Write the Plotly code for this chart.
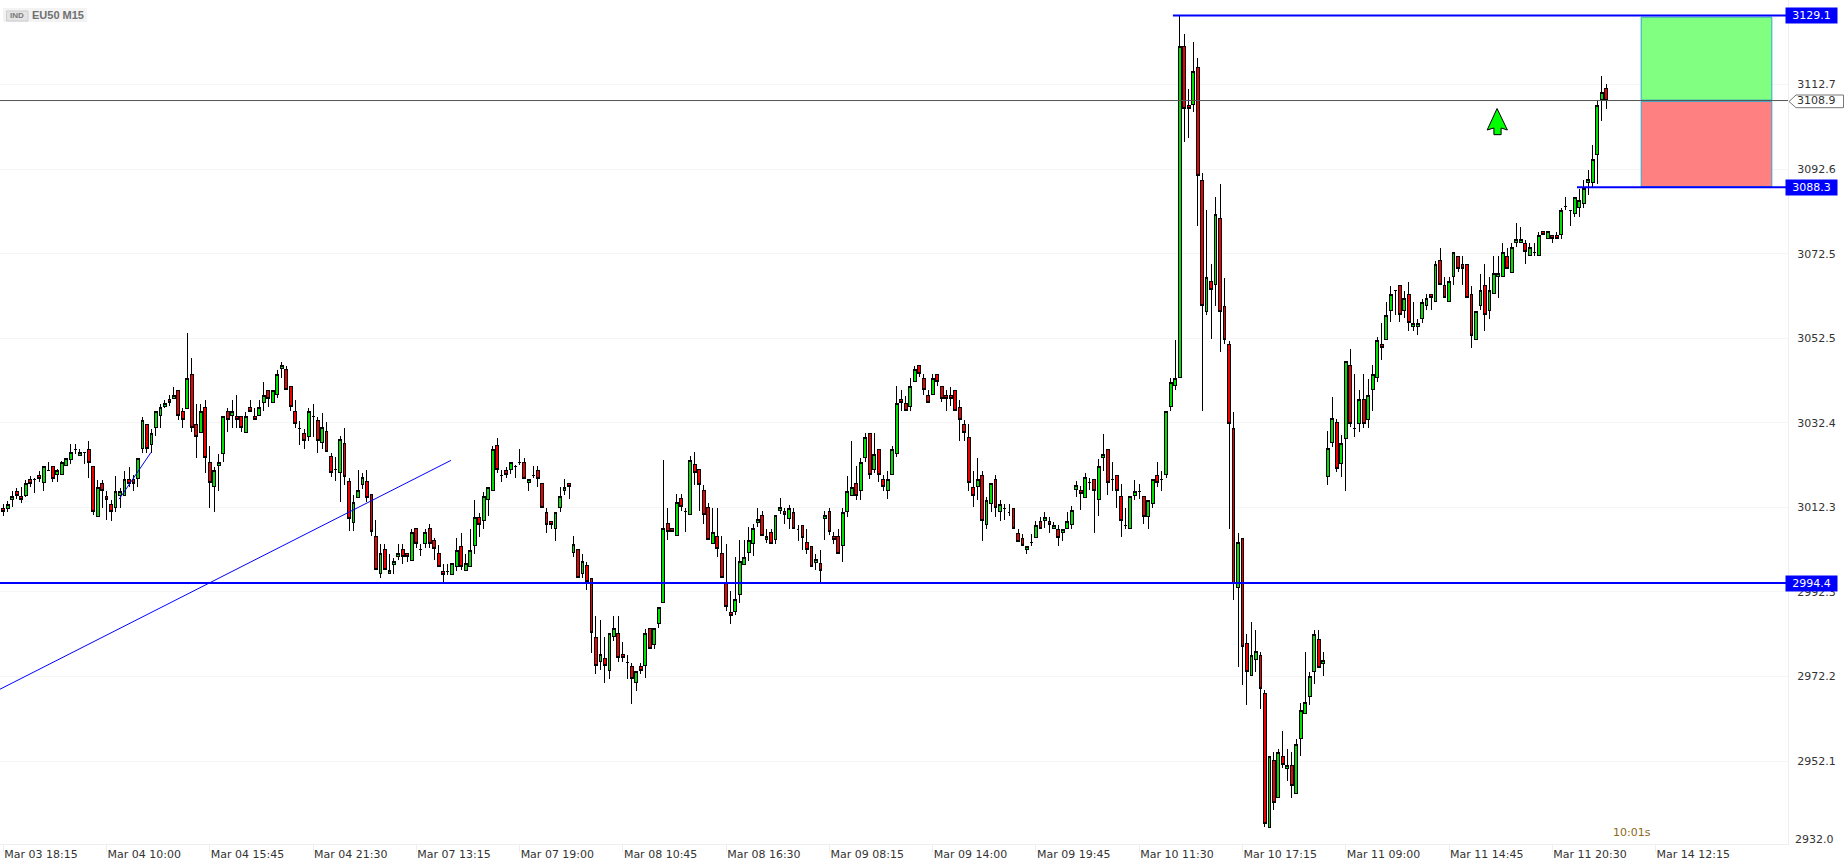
import plotly.graph_objects as go

opens = [
3012.1,3012.2,3014.2,3016.1,3014.9,3015.1,3018.9,3018.9,3019.9,3018.2,
3021.1,3022.0,3020.1,3020.1,3022.2,3023.6,3026.2,3024.6,3025.3,3026.1,
3022.0,3010.2,3018.0,3014.9,3013.0,3012.3,3015.2,3015.1,3018.9,3018.9,
3019.2,3026.3,3032.0,3027.2,3031.3,3034.1,3036.3,3037.9,3038.2,3040.1,
3035.1,3035.8,3043.9,3032.0,3030.1,3036.0,3023.0,3017.3,3022.2,3025.1,
3035.1,3034.1,3033.9,3033.9,3030.1,3036.0,3033.9,3034.1,3037.2,3040.1,
3037.2,3039.1,3045.2,3045.0,3041.0,3035.1,3031.0,3029.9,3029.1,3033.9,
3032.9,3027.7,3030.3,3024.4,3021.3,3020.6,3027.5,3018.5,3008.7,3014.7,
3017.8,3018.5,3015.4,3005.4,2996.6,3002.3,2996.6,2998.8,3000.7,3002.3,
3001.4,2999.7,3007.3,3002.3,3003.7,3007.3,3004.5,3001.4,2997.1,2997.1,
2996.4,2998.3,3003.1,2997.4,2998.3,3003.3,3010.0,3009.2,3014.2,3016.4,
3027.0,3019.9,3021.1,3021.3,3022.1,3023.0,3023.0,3018.3,3019.9,3021.1,
3018.0,3011.1,3009.0,3007.3,3012.3,3016.4,3018.0,3001.6,3002.4,2996.7,
2998.6,2995.5,2981.5,2975.8,2976.5,2973.6,2981.7,2982.4,2977.4,2975.5,
2974.6,2970.7,2974.6,2974.8,2983.6,2979.8,2984.8,2989.8,3008.5,3007.3,
3005.7,3014.5,3011.4,3010.7,3022.5,3021.3,3016.4,3012.3,3003.8,3005.4,
3001.4,2994.6,2987.4,2987.6,2991.7,2998.8,3001.6,3003.8,3008.8,3010.4,
3004.7,3006.4,3004.7,3011.6,3011.4,3009.7,3011.1,3007.1,3008.1,3004.0,
3003.1,2999.3,2999.0,3009.7,3011.4,3005.4,3005.4,3003.3,3011.4,3015.2,
3018.0,3016.4,3024.2,3029.9,3021.3,3026.1,3018.9,3016.3,3020.1,3025.1,
3037.9,3037.0,3036.3,3042.2,3046.0,3042.9,3038.9,3039.1,3043.9,3041.0,
3038.9,3038.9,3040.1,3036.0,3032.0,3028.9,3017.0,3017.3,3019.9,3008.2,
3013.2,3018.9,3011.3,3012.0,3011.1,3012.0,3006.1,3004.9,3002.3,3004.0,
3005.2,3009.0,3009.2,3009.0,3007.3,3007.1,3006.4,3007.3,3008.2,3016.6,
3016.3,3014.7,3018.3,3018.9,3014.2,3024.2,3026.1,3018.9,3019.9,3014.9,
3008.0,3007.3,3015.1,3016.1,3014.9,3010.1,3013.2,3019.9,3018.9,3020.1,
3036.3,3041.2,3043.1,3121.7,3107.7,3107.9,3116.7,3089.9,3058.9,3065.9,
3065.2,3080.9,3060.0,3051.0,3031.1,2993.3,3005.0,2980.0,2972.5,2976.2,
2977.2,2968.2,2936.4,2952.3,2943.5,2953.2,2950.4,2951.1,2944.4,2957.5,
2963.4,2967.5,2973.4,2981.0,2975.3,3019.7,3027.7,3032.5,3022.8,3028.7,
3046.0,3031.1,3032.2,3037.9,3033.2,3040.3,3043.2,3051.0,3052.2,3059.1,
3063.8,3065.0,3059.1,3062.9,3055.3,3055.3,3057.2,3060.2,3062.9,3061.2,
3070.9,3065.0,3061.2,3067.1,3071.9,3070.0,3070.0,3062.9,3052.2,3060.2,
3065.0,3059.1,3063.1,3067.1,3067.1,3071.9,3068.1,3075.2,3075.2,3075.0,
3072.1,3072.8,3072.1,3077.8,3076.1,3076.9,3076.9,3077.1,3083.7,3082.8,
3082.1,3083.5,3084.4,3089.4,3089.4,3096.1,3109.1,3111.7]

highs = [
3013.1,3013.9,3016.2,3017.0,3017.2,3018.9,3019.9,3019.3,3021.0,3022.0,
3023.0,3022.0,3021.4,3023.3,3023.9,3027.5,3027.5,3026.3,3025.6,3028.0,
3022.0,3018.9,3018.9,3016.2,3014.2,3019.9,3017.0,3021.1,3022.0,3020.0,
3023.9,3033.9,3032.0,3031.0,3035.1,3037.0,3037.9,3039.0,3040.9,3040.1,
3036.0,3053.8,3047.9,3037.0,3037.0,3037.9,3027.0,3021.9,3025.0,3033.9,
3036.0,3037.9,3039.0,3033.9,3035.1,3037.9,3036.0,3037.9,3042.0,3040.1,
3040.1,3045.0,3046.9,3046.0,3041.0,3037.9,3032.9,3031.0,3036.0,3037.0,
3033.9,3034.8,3032.5,3025.3,3024.3,3029.4,3031.3,3019.4,3015.4,3021.3,
3020.4,3021.3,3015.4,3009.4,3003.6,3003.6,3001.4,3000.4,3003.6,3003.6,
3001.4,3007.3,3007.3,3003.6,3007.3,3008.4,3005.2,3003.5,2999.0,2999.0,
2999.0,3005.0,3006.2,3001.4,3007.1,3014.1,3010.9,3016.0,3017.1,3027.0,
3028.9,3021.2,3022.0,3023.0,3022.3,3026.1,3024.0,3019.0,3022.1,3022.1,
3018.0,3012.1,3009.0,3011.1,3017.1,3019.0,3018.0,3005.5,3002.4,3001.4,
2999.5,2995.5,2986.5,2985.6,2981.5,2982.4,2986.5,2986.5,2980.5,2977.4,
2975.5,2973.4,2975.5,2983.6,2983.6,2983.6,2988.6,3023.6,3012.3,3007.3,
3015.5,3015.5,3012.3,3024.5,3025.5,3021.3,3017.6,3013.5,3012.3,3012.3,
3005.5,3003.6,2992.4,3000.5,3004.6,3004.6,3007.6,3008.5,3012.3,3011.4,
3007.3,3007.3,3010.4,3014.5,3012.3,3013.0,3012.1,3008.1,3008.1,3007.1,
3003.1,3001.2,3002.2,3011.4,3012.3,3006.4,3007.3,3012.1,3019.9,3028.0,
3022.1,3024.0,3029.9,3029.9,3029.9,3026.1,3020.0,3021.1,3027.0,3041.1,
3040.1,3038.9,3043.0,3046.0,3046.0,3043.9,3040.1,3044.1,3043.9,3041.0,
3040.1,3041.0,3040.1,3037.9,3033.0,3032.1,3021.1,3024.0,3021.1,3014.9,
3018.0,3020.0,3014.0,3013.2,3013.2,3012.0,3007.1,3006.1,3003.0,3006.1,
3009.0,3010.1,3011.2,3010.1,3008.9,3008.1,3007.1,3011.2,3012.6,3018.5,
3017.5,3020.4,3019.4,3018.9,3023.9,3029.8,3026.1,3023.0,3019.9,3018.0,
3012.1,3014.9,3018.9,3018.0,3014.9,3013.9,3018.9,3023.0,3021.1,3035.1,
3043.0,3052.0,3129.0,3124.8,3111.7,3122.9,3118.9,3091.8,3082.9,3070.0,
3085.9,3089.0,3066.9,3051.9,3035.1,3006.2,3005.0,2982.2,2985.1,2983.2,
2978.1,2969.1,2953.2,2954.3,2955.1,2959.2,2955.1,2954.2,2957.3,2966.0,
2978.1,2973.2,2983.2,2983.2,2978.1,3030.4,3038.5,3033.4,3029.5,3047.0,
3050.0,3044.0,3040.1,3044.0,3042.9,3046.1,3052.9,3056.0,3061.0,3065.0,
3064.0,3065.0,3063.8,3065.9,3061.0,3057.0,3061.9,3062.9,3062.9,3070.9,
3074.0,3067.0,3067.0,3072.8,3071.9,3071.9,3070.0,3065.0,3058.8,3067.8,
3070.0,3067.0,3071.9,3071.9,3075.0,3074.0,3075.0,3079.9,3079.0,3075.9,
3075.0,3075.0,3077.8,3077.8,3077.8,3076.9,3077.8,3083.5,3086.0,3082.9,
3085.9,3088.0,3090.1,3092.3,3098.3,3109.0,3114.8,3112.8]

lows = [
3010.2,3011.3,3012.4,3014.4,3013.4,3014.8,3017.2,3015.8,3018.4,3016.2,
3021.0,3018.4,3018.4,3020.1,3022.2,3022.7,3025.0,3024.6,3022.7,3019.3,
3010.5,3010.2,3012.3,3009.3,3009.1,3011.3,3012.3,3015.1,3017.2,3016.2,
3017.2,3025.3,3025.3,3025.3,3029.2,3031.1,3036.0,3036.3,3038.2,3033.2,
3031.1,3035.8,3030.2,3024.1,3030.1,3020.4,3012.2,3011.3,3016.2,3023.1,
3030.2,3031.3,3031.3,3030.2,3030.1,3035.1,3033.2,3034.1,3035.2,3036.2,
3037.2,3038.2,3043.1,3040.3,3035.2,3031.3,3027.2,3026.2,3028.2,3029.1,
3025.3,3026.3,3025.5,3019.6,3018.5,3013.6,3017.6,3006.8,3006.8,3014.7,
3016.8,3013.6,3005.6,2997.6,2995.7,2997.6,2996.6,2996.6,2999.8,2998.8,
2999.5,2999.7,3002.7,3000.8,3002.7,3002.6,2999.8,2998.2,2994.3,2996.3,
2996.4,2997.3,2997.5,2997.3,2998.3,3001.3,3005.4,3007.1,3010.3,3016.4,
3020.4,3018.4,3019.4,3020.2,3019.4,3022.3,3019.2,3016.3,3019.4,3017.2,
3012.3,3006.3,3007.3,3004.4,3011.3,3015.3,3014.4,3000.6,2995.7,2995.7,
2992.7,2977.8,2972.8,2973.7,2970.7,2971.7,2980.7,2975.7,2975.7,2971.7,
2965.7,2968.8,2972.7,2971.9,2978.9,2978.8,2983.8,2989.8,3004.6,3006.6,
3005.7,3011.6,3006.5,3010.7,3017.7,3011.5,3008.5,3004.7,3003.8,3000.6,
2995.7,2987.8,2984.6,2986.8,2989.7,2998.8,2999.7,3000.8,3007.6,3005.7,
3003.8,3003.8,3003.6,3010.7,3008.5,3007.3,3007.3,3004.4,3002.2,3001.2,
2998.3,2997.6,2994.6,3004.6,3005.7,3003.6,3001.4,2999.3,3010.1,3015.2,
3014.2,3014.2,3023.0,3019.2,3020.4,3018.4,3016.2,3014.3,3020.1,3024.3,
3035.2,3035.3,3035.2,3042.2,3043.3,3039.1,3037.2,3039.1,3041.1,3037.3,
3035.2,3036.3,3035.2,3028.1,3028.1,3016.2,3012.4,3014.2,3004.4,3007.2,
3011.3,3010.1,3009.1,3009.3,3010.3,3007.3,3004.2,3003.3,3001.3,3003.3,
3005.2,3007.3,3007.4,3006.3,3007.3,3003.2,3004.4,3007.3,3007.3,3014.8,
3011.7,3014.7,3016.4,3006.3,3010.3,3021.1,3015.2,3016.2,3012.2,3005.3,
3007.2,3007.3,3014.2,3014.3,3008.3,3007.2,3012.2,3017.2,3016.2,3019.3,
3035.2,3040.1,3043.1,3099.1,3100.0,3106.2,3079.1,3035.2,3058.0,3052.2,
3060.2,3049.2,3051.1,3007.3,2990.3,2974.5,2970.2,2965.4,2972.5,2973.3,
2964.5,2936.5,2936.4,2940.5,2943.5,2950.4,2947.4,2943.4,2944.4,2953.4,
2963.4,2965.4,2970.5,2974.4,2972.4,3017.6,3026.7,3020.8,3019.6,3016.3,
3031.4,3029.1,3030.3,3031.3,3031.3,3035.2,3042.1,3047.4,3052.2,3056.4,
3058.1,3056.4,3057.2,3054.2,3054.2,3053.2,3056.1,3059.3,3059.1,3061.2,
3065.2,3062.1,3061.2,3065.1,3068.2,3065.1,3062.1,3050.2,3052.2,3059.1,
3054.2,3057.1,3063.1,3062.1,3067.1,3069.0,3068.1,3074.2,3075.2,3070.1,
3072.1,3072.1,3072.1,3077.0,3076.1,3075.1,3076.1,3076.1,3082.9,3079.1,
3081.3,3081.3,3083.5,3086.4,3088.4,3089.2,3104.1,3107.0]

closes = [
3011.3,3013.0,3014.9,3015.1,3014.2,3018.0,3018.1,3018.9,3019.1,3022.0,
3021.1,3019.2,3021.0,3023.0,3023.9,3025.3,3026.2,3025.3,3025.3,3023.1,
3011.3,3017.0,3016.3,3014.2,3011.3,3016.1,3016.1,3018.9,3018.1,3018.1,
3023.9,3032.9,3026.3,3029.9,3035.1,3036.0,3037.0,3037.2,3038.9,3034.1,
3033.2,3042.9,3031.3,3029.1,3035.1,3024.2,3018.2,3021.1,3023.0,3033.9,
3033.1,3035.1,3033.1,3031.3,3033.9,3035.2,3033.2,3036.0,3038.9,3038.2,
3040.1,3043.9,3046.0,3040.3,3036.3,3032.2,3031.0,3028.2,3035.1,3033.9,
3028.2,3031.3,3025.5,3020.6,3021.3,3028.4,3019.6,3009.7,3013.5,3016.3,
3019.4,3014.7,3006.6,2997.6,3001.4,2997.6,2997.3,2999.5,3001.4,3000.7,
3000.7,3006.4,3003.7,3002.3,3006.4,3003.7,3002.6,2998.3,2996.4,2997.1,
2999.0,3002.1,2998.3,2999.0,3002.1,3010.0,3008.3,3014.9,3017.1,3026.1,
3021.3,3019.9,3020.2,3023.0,3022.1,3023.0,3019.2,3019.0,3019.9,3019.2,
3012.3,3008.3,3008.3,3011.1,3014.9,3017.1,3017.3,3003.5,2995.7,2999.5,
2994.8,2982.7,2974.8,2977.4,2974.8,2982.4,2983.6,2976.7,2976.7,2975.5,
2971.7,2973.4,2973.6,2982.4,2978.9,2983.6,2988.6,3007.3,3006.6,3006.6,
3013.5,3012.6,3011.4,3023.5,3020.6,3017.8,3010.7,3004.7,3006.4,3002.6,
2995.7,2988.8,2986.7,2990.5,2999.5,3000.5,3004.5,3007.3,3009.5,3005.7,
3005.4,3003.8,3010.4,3012.3,3010.7,3012.1,3007.3,3007.1,3005.2,3002.4,
2998.3,3000.0,2997.4,3010.4,3006.6,3004.7,3001.4,3011.1,3016.1,3017.1,
3015.2,3023.0,3029.0,3020.2,3024.9,3020.2,3017.2,3018.9,3026.1,3037.0,
3037.2,3035.3,3041.0,3045.0,3044.1,3040.3,3037.2,3042.9,3042.2,3038.2,
3038.2,3038.2,3035.3,3033.2,3030.1,3018.2,3015.1,3018.9,3009.2,3013.9,
3018.0,3012.3,3013.0,3012.0,3011.1,3007.3,3004.2,3003.3,3003.0,3004.0,
3008.0,3007.3,3009.9,3008.2,3008.0,3005.2,3007.1,3009.0,3011.6,3017.5,
3015.6,3019.4,3018.3,3016.3,3022.0,3024.9,3018.2,3018.9,3016.3,3009.2,
3008.0,3014.9,3016.1,3016.1,3010.1,3013.9,3018.9,3018.2,3018.9,3035.1,
3042.0,3042.9,3121.7,3107.0,3107.0,3115.8,3091.1,3060.2,3066.9,3064.0,
3081.8,3058.9,3052.1,3032.3,2994.3,3004.0,2979.3,2973.4,2977.2,2978.1,
2969.4,2937.3,2953.2,2942.3,2954.2,2951.3,2951.1,2946.3,2956.1,2964.1,
2966.0,2972.2,2982.2,2974.4,2976.0,3026.3,3033.4,3021.6,3027.5,3047.0,
3032.2,3031.1,3037.9,3032.2,3038.9,3043.9,3051.9,3050.3,3057.9,3062.9,
3063.8,3058.1,3061.9,3056.2,3056.0,3056.0,3061.0,3061.9,3062.1,3070.0,
3065.2,3062.1,3065.9,3072.8,3069.0,3069.0,3062.1,3053.1,3058.8,3063.8,
3058.1,3063.8,3067.8,3067.8,3072.8,3069.0,3074.0,3075.9,3075.9,3073.1,
3074.0,3072.8,3076.9,3077.0,3077.8,3076.1,3076.1,3082.9,3083.7,3082.8,
3085.9,3085.2,3088.0,3090.1,3094.9,3107.7,3110.8,3108.9]

assert len(opens) == len(highs) == len(lows) == len(closes) == 358, (len(opens), len(highs), len(lows), len(closes))

bar_index = list(range(len(opens)))

x_tick_labels = ["Mar 03 18:15", "Mar 04 10:00", "Mar 04 15:45", "Mar 04 21:30", "Mar 07 13:15",
                 "Mar 07 19:00", "Mar 08 10:45", "Mar 08 16:30", "Mar 09 08:15", "Mar 09 14:00",
                 "Mar 09 19:45", "Mar 10 11:30", "Mar 10 17:15", "Mar 11 09:00", "Mar 11 14:45",
                 "Mar 11 20:30", "Mar 14 12:15"]
x_tick_bars = [i * 23 for i in range(len(x_tick_labels))]

y_tick_values = [3112.7, 3092.6, 3072.5, 3052.5, 3032.4, 3012.3, 2992.3, 2972.2, 2952.1]
y_tick_labels = ["3112.7", "3092.6", "3072.5", "3052.5", "3032.4", "3012.3", "2992.3", "2972.2", "2952.1"]

take_profit = 3129.1
stop_loss = 3088.3
support = 2994.4
last_price = 3108.9

trend_x = [-0.735, 99.7]
trend_y = [2969.2, 3023.5]
short_trend_x = [25.8, 32.9]
short_trend_y = [3014.3, 3025.4]

arrow_x = [332.7, 335.0, 333.6, 333.6, 332.0, 332.0, 330.5, 332.7]
arrow_y = [3107.0, 3101.9, 3102.4, 3100.8, 3100.8, 3102.4, 3101.9, 3107.0]

X_MIN, X_MAX = -0.735, 397.5
Y_MIN, Y_MAX = 2932.46, 3132.76
PW, PH = 1788.0, 844.0
BLUE = "#0000FF"
TXT = "#333333"
FONT = "DejaVu Sans"

fig = go.Figure()
fig.add_trace(go.Candlestick(
    x=bar_index, open=opens, high=highs, low=lows, close=closes,
    increasing=dict(fillcolor="#00E000", line=dict(color="#000000", width=1)),
    decreasing=dict(fillcolor="#EE0000", line=dict(color="#000000", width=1)),
    whiskerwidth=0, hoverinfo="skip", showlegend=False,
))
fig.add_trace(go.Scatter(x=arrow_x, y=arrow_y, mode="lines", fill="toself", fillcolor="#00FF00",
                         line=dict(color="#000000", width=1), hoverinfo="skip", showlegend=False))

def hline(y, x0, color, width):
    return dict(type="line", xref="x", yref="y", x0=x0, x1=X_MAX, y0=y, y1=y,
                line=dict(color=color, width=width))

shapes = [
    dict(type="rect", xref="x", yref="y", x0=364.8, x1=393.9, y0=3109.0, y1=3128.7,
         fillcolor="#80FF80", line=dict(color="#30A8C8", width=1)),
    dict(type="rect", xref="x", yref="y", x0=364.8, x1=393.9, y0=3088.5, y1=3108.7,
         fillcolor="#FF8080", line=dict(color="#30A8C8", width=1)),
    hline(last_price, X_MIN, "#555555", 1),
    hline(support, X_MIN, BLUE, 2),
    hline(take_profit, 260.5, BLUE, 2),
    hline(stop_loss, 350.5, BLUE, 2),
    dict(type="line", xref="x", yref="y", x0=trend_x[0], x1=trend_x[1], y0=trend_y[0], y1=trend_y[1],
         line=dict(color=BLUE, width=1)),
    dict(type="line", xref="x", yref="y", x0=short_trend_x[0], x1=short_trend_x[1],
         y0=short_trend_y[0], y1=short_trend_y[1], line=dict(color=BLUE, width=1)),
    # symbol plate top-left
    dict(type="rect", xref="paper", yref="paper", x0=3/PW, x1=87/PW, y0=1-22/PH, y1=1-8/PH,
         fillcolor="#F3F3F3", line=dict(width=0), layer="below"),
    dict(type="rect", xref="paper", yref="paper", x0=6.5/PW, x1=28/PW, y0=1-21/PH, y1=1-11/PH,
         fillcolor="#E4E4E4", line=dict(color="#CCCCCC", width=1)),
    # last price flag
    dict(type="path", xref="paper", yref="paper",
         path=f"M {1789/PW},{1-101.5/PH} L {1796/PW},{1-95/PH} L {1843.5/PW},{1-95/PH} "
              f"L {1843.5/PW},{1-107.7/PH} L {1796/PW},{1-107.7/PH} Z",
         fillcolor="#FFFFFF", line=dict(color="#777777", width=1)),
]

def tag(y, text):
    return dict(xref="paper", yref="y", x=1811.5/PW, y=y, text=text, showarrow=False,
                font=dict(family=FONT, size=11, color="#FFFFFF"), bgcolor=BLUE,
                width=51, height=15, borderpad=0, align="center", valign="middle",
                xanchor="center", yanchor="middle")

annotations = [
    tag(take_profit, "3129.1"), tag(stop_loss, "3088.3"), tag(support, "2994.4"),
    dict(xref="paper", yref="y", x=1796/PW, y=last_price, text="3108.9", showarrow=False,
         xanchor="left", yanchor="middle", font=dict(family=FONT, size=11, color=TXT), borderpad=0),
    dict(xref="paper", yref="paper", x=1794/PW, y=1-839.5/PH, text="2932.0", showarrow=False,
         xanchor="left", yanchor="middle", font=dict(family=FONT, size=11, color=TXT), borderpad=0),
    dict(xref="paper", yref="paper", x=1612/PW, y=1-832.5/PH, text="10:01s", showarrow=False,
         xanchor="left", yanchor="middle", font=dict(family=FONT, size=11, color="#8B6914"), borderpad=0),
    dict(xref="paper", yref="paper", x=17.2/PW, y=1-16/PH, text="<b>IND</b>", showarrow=False,
         xanchor="center", yanchor="middle", font=dict(family="Liberation Sans", size=8, color="#777777"), borderpad=0),
    dict(xref="paper", yref="paper", x=31/PW, y=1-14.5/PH, text="<b>EU50 M15</b>", showarrow=False,
         xanchor="left", yanchor="middle", font=dict(family="Liberation Sans", size=11, color="#707070"), borderpad=0),
]

fig.update_layout(
    width=1844, height=864, autosize=False,
    margin=dict(l=0, r=56, t=0, b=20, pad=0),
    paper_bgcolor="#FFFFFF", plot_bgcolor="#FFFFFF",
    showlegend=False, boxgap=0.1, shapes=shapes, annotations=annotations,
    font=dict(family=FONT, size=11, color=TXT),
    xaxis=dict(range=[X_MIN, X_MAX], rangeslider=dict(visible=False), tickmode="array",
               tickvals=x_tick_bars, ticktext=x_tick_labels, ticks="outside", ticklen=7, tickcolor="#EEEEEE",
               ticklabelposition="outside right", showgrid=False, zeroline=False,
               showline=True, linecolor="#EEEEEE", linewidth=1, tickfont=dict(family=FONT, size=11, color=TXT)),
    yaxis=dict(range=[Y_MIN, Y_MAX], side="right", tickmode="array", tickvals=y_tick_values,
               ticktext=y_tick_labels, ticks="outside", ticklen=6, tickcolor="rgba(0,0,0,0)",
               showgrid=True, gridcolor="#F5F5F5", gridwidth=1, zeroline=False,
               showline=True, linecolor="#EEEEEE", linewidth=1, tickfont=dict(family=FONT, size=11, color=TXT)),
)

crisp = ("document.body.style.margin='0';document.body.style.overflow='hidden';"
         "var crisp=function(){document.querySelectorAll('.boxes path').forEach(function(p){"
         "p.style.shapeRendering='crispEdges';});};crisp();setTimeout(crisp,50);setTimeout(crisp,300);")
fig.write_html("out.html", config={"displayModeBar": False}, post_script=crisp)
